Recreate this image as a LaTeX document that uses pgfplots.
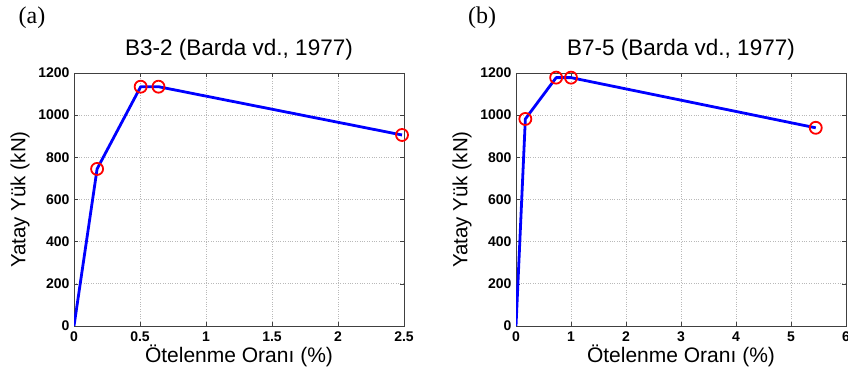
\documentclass[border=0pt]{standalone}
\usepackage{pgfplots}
\pgfplotsset{compat=1.18}
\usepackage{fontspec}
\setmainfont{Liberation Sans}
\newfontfamily\seriffont{Liberation Serif}
\begin{document}
\begin{tikzpicture}
\useasboundingbox (0pt,0pt) rectangle (848pt,374pt);
\pgfplotsset{
  mystyle/.style={
    scale only axis, width=330pt, height=253pt,
    anchor=south west,
    ymin=0, ymax=1200, ytick={0,200,...,1200},
    /pgf/number format/assume math mode=true,
    /pgf/number format/1000 sep={},
    scaled ticks=false,
    tick align=inside,
    major tick length=4pt,
    tick style={black!75, line width=0.6pt},
    axis line style={black!75, line width=0.9pt},
    grid=major,
    major grid style={dotted, gray!55, line width=0.9pt},
    tick label style={font=\fontsize{14}{16}\selectfont\bfseries},
    yticklabel style={xshift=-1pt},
    xticklabel style={yshift=-2pt},
    title style={at={(axis description cs:0.5,1.0435)}, anchor=base, font=\fontsize{22.5}{26}\selectfont},
    xlabel style={at={(axis description cs:0.5,-0.1423)}, anchor=base, font=\fontsize{21}{24}\selectfont},
    ylabel style={at={(axis description cs:-0.1636,0.5)}, anchor=center, font=\fontsize{20.5}{24}\selectfont},
    xlabel={Ötelenme Oranı (\%)},
    ylabel={Yatay Yük (kN)},
  }
}
\begin{axis}[mystyle, at={(74pt,48pt)},
  xmin=0, xmax=2.5, xtick={0,0.5,1,1.5,2,2.5},
  xticklabels={0,0.5,1,1.5,2,2.5},
  title={B3-2 (Barda vd., 1977)}]
\addplot[blue, line width=2.8pt, line join=round] coordinates {
(0,0) (0.175,745) (0.505,1135) (0.64,1135) (2.485,906)};
\addplot[only marks, mark=o, mark size=6pt, mark options={red, line width=1.8pt}] coordinates {
(0.175,745) (0.505,1135) (0.64,1135) (2.485,906)};
\end{axis}
\begin{axis}[mystyle, at={(516pt,48pt)},
  xmin=0, xmax=6, xtick={0,1,...,6},
  title={B7-5 (Barda vd., 1977)}]
\addplot[blue, line width=2.8pt, line join=round] coordinates {
(0,0) (0.17,982) (0.73,1178) (1.0,1178) (5.45,940)};
\addplot[only marks, mark=o, mark size=6pt, mark options={red, line width=1.8pt}] coordinates {
(0.17,982) (0.73,1178) (1.0,1178) (5.45,940)};
\end{axis}
\node[font=\seriffont\fontsize{24}{28}\selectfont] at (32pt,356pt) {(a)};
\node[font=\seriffont\fontsize{24}{28}\selectfont] at (482pt,356pt) {(b)};
\end{tikzpicture}
\end{document}
